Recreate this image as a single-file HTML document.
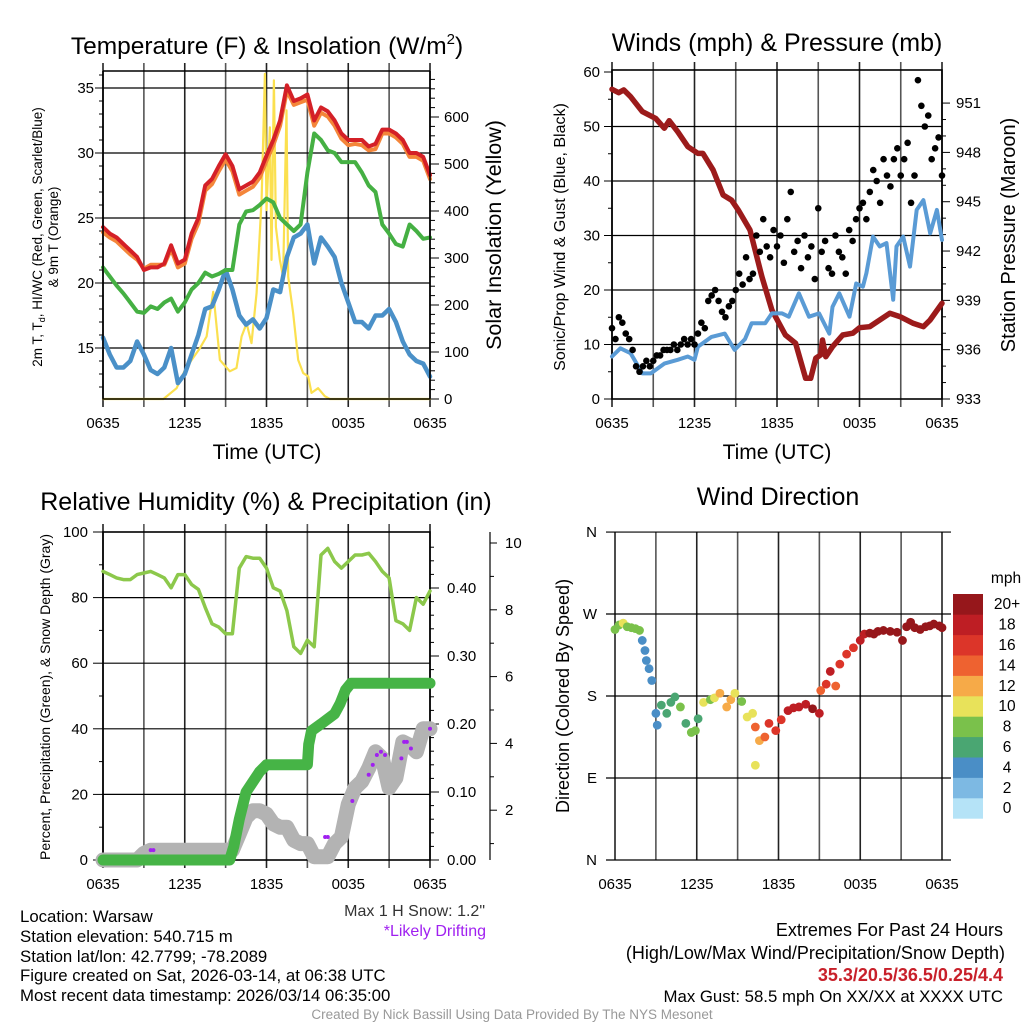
<!DOCTYPE html>
<html><head><meta charset="utf-8"><style>
body{margin:0;background:#fff;}
svg{display:block;font-family:"Liberation Sans",sans-serif;}
</style></head><body>
<svg id="chart" width="1024" height="1024" viewBox="0 0 1024 1024" xmlns="http://www.w3.org/2000/svg">
<rect x="0" y="0" width="1024" height="1024" fill="#fff"/>
<g id="g1"></g>
<g id="g2"></g>
<g id="g3"></g>
<g id="g4"></g>

<text x="267" y="54" font-size="24.5" text-anchor="middle">Temperature (F) &amp; Insolation (W/m<tspan dy="-10" font-size="15">2</tspan><tspan dy="10">)</tspan></text>
<text x="777" y="51" font-size="25" text-anchor="middle">Winds (mph) &amp; Pressure (mb)</text>
<text x="266" y="510" font-size="25" text-anchor="middle">Relative Humidity (%) &amp; Precipitation (in)</text>
<text x="778" y="505" font-size="25" text-anchor="middle">Wind Direction</text>

<text x="267" y="459" font-size="21" text-anchor="middle">Time (UTC)</text>
<text x="777" y="459" font-size="21" text-anchor="middle">Time (UTC)</text>

<text transform="translate(42,237) rotate(-90)" font-size="13.5" text-anchor="middle">2m T, T<tspan font-size="9" dy="3">d</tspan><tspan dy="-3">, HI/WC (Red, Green, Scarlet/Blue)</tspan></text>
<text transform="translate(58,237) rotate(-90)" font-size="13.5" text-anchor="middle">&amp; 9m T (Orange)</text>
<text transform="translate(501,235) rotate(-90)" font-size="21.5" text-anchor="middle">Solar Insolation (Yellow)</text>
<text transform="translate(565,237) rotate(-90)" font-size="16" text-anchor="middle">Sonic/Prop Wind &amp; Gust (Blue, Black)</text>
<text transform="translate(1015,235) rotate(-90)" font-size="20" text-anchor="middle">Station Pressure (Maroon)</text>
<text transform="translate(50,697) rotate(-90)" font-size="14" text-anchor="middle">Percent, Precipitation (Green), &amp; Snow Depth (Gray)</text>
<text transform="translate(569,696) rotate(-90)" font-size="18" text-anchor="middle">Direction (Colored By Speed)</text>

<text x="485" y="916" font-size="16" fill="#333" text-anchor="end">Max 1 H Snow: 1.2"</text>
<text x="486" y="936" font-size="16" fill="#a020f0" text-anchor="end">*Likely Drifting</text>

<g font-size="16.8">
<text x="20" y="922">Location: Warsaw</text>
<text x="20" y="942">Station elevation: 540.715 m</text>
<text x="20" y="962">Station lat/lon: 42.7799; -78.2089</text>
<text x="20" y="981">Figure created on Sat, 2026-03-14, at 06:38 UTC</text>
<text x="20" y="1001">Most recent data timestamp: 2026/03/14 06:35:00</text>
</g>
<g font-size="18" text-anchor="end">
<text x="1003" y="936">Extremes For Past 24 Hours</text>
<text x="1005" y="959">(High/Low/Max Wind/Precipitation/Snow Depth)</text>
<text x="1003" y="981" fill="#c8202a" font-weight="bold">35.3/20.5/36.5/0.25/4.4</text>
<text x="1003" y="1002" font-size="16.8">Max Gust: 58.5 mph On XX/XX at XXXX UTC</text>
</g>
<text x="512" y="1019" font-size="13.5" fill="#999" text-anchor="middle">Created By Nick Bassill Using Data Provided By The NYS Mesonet</text>
</svg>
<script>
// ---------- data ----------
const xTickLabels = ["0635","1235","1835","0035","0635"];
const tempTicks = [15,20,25,30,35];
const solarTicks = [0,100,200,300,400,500,600];
const windTicks = [0,10,20,30,40,50,60];
const pressTicks = [933,936,939,942,945,948,951];
const rhTicks = [0,20,40,60,80,100];
const precipTicks = [0.00,0.10,0.20,0.30,0.40];
const snowTicks = [2,4,6,8,10];
const dirTicks = ["N","E","S","W","N"];
const dirTickVals = [0,90,180,270,360];

const halfHours = Array.from({length:49},(_, i)=>i*0.5);
const tempRed = [24.3,23.8,23.5,23,22.5,22,21,21.2,21.2,21.5,22.9,21.5,21.8,23.8,25,27.5,28,29,29.9,29,27.2,27.5,27.8,28.5,29.8,31,32.5,35.2,34,34.2,34.5,32.5,33.5,33.2,32.5,31.5,31,31,31,30.5,30.7,31.8,31.8,31.5,31,30,30,29.7,28.3];
const tempOrange = [23.9,23.5,23.2,22.7,22.2,21.8,21.1,21.4,21.4,21.4,22.6,21.2,21.5,23.4,24.6,27.1,27.6,28.6,29.5,28.6,26.8,27.1,27.4,28.1,29.4,30.6,32.1,34.8,33.7,33.9,34.1,32.1,33.1,32.8,32.1,31.1,30.6,30.7,30.6,30.2,30.3,31.5,31.5,31.2,30.7,29.7,29.7,29.4,28];
const dewGreen = [21.2,20.5,19.8,19.2,18.5,17.8,17.7,18.2,18,18.5,18.8,17.8,18.5,19.5,20,20.8,20.5,20.7,21,21,24.5,25.5,25.6,26,26.5,26.2,25,24.5,24,24.5,28.5,31.5,31,30.2,30,29.3,29.3,29.3,28.5,27.5,27,24.5,23.8,23,22.8,24.5,24,23.4,23.5];
const chillBlue = [15.8,14.5,13.5,13.5,14,15.5,14.5,13.3,13,13.5,15,12.3,13,14.5,16,18,18.2,19.5,21,19.5,17.5,16.8,17.2,16.5,17.3,19.5,19.3,22,23.5,23.8,24.5,21.5,23.5,22.8,22,20,18.5,17,17,16.5,17.5,17.5,18,17,15.5,14.5,14,13.8,12.8];
const solarTimes = [0,4.43,5.4,6.02,6.5,7.11,7.6,8.09,8.58,9.31,9.8,10.17,10.54,10.9,11.27,11.64,11.88,12.0,12.25,12.37,12.54,12.69,12.98,13.22,13.47,13.59,13.96,14.33,14.69,15.06,15.3,15.79,16.28,16.65,24];
const solarVals = [0,0,23,62,83,108,133,228,83,59,66,133,161,119,226,424,692,402,578,296,678,366,296,260,614,260,182,83,55,48,13,23,6,0,0];

const pressTimes = [0,0.49,0.86,1.35,2.2,3.18,3.8,4.16,4.78,5.51,6.25,6.61,7.35,8.08,8.69,9.18,10.04,10.9,11.63,12.61,13.35,14.08,14.45,14.82,15.18,15.31,15.55,16.04,16.78,17.51,18.0,18.74,20.2,20.94,21.92,22.65,23.14,24];
const pressVals = [951.84,951.63,951.8,951.39,950.48,950.07,949.47,949.93,949.26,948.35,947.94,947.94,946.93,945.41,945.1,944.5,943.28,940.44,938.41,936.89,936.39,934.26,934.26,935.48,935.68,936.59,935.57,936.18,936.89,937.0,937.34,937.4,938.21,938.01,937.6,937.4,937.81,938.82];
const sonicTimes = [0,0.61,1.35,2.2,2.82,3.8,4.78,5.51,6.0,6.25,7.24,8.2,8.92,9.67,10.16,11.14,11.63,12.37,12.86,13.59,14.33,15.06,15.8,16.04,16.53,17.27,17.76,18.25,18.5,18.98,19.47,19.96,20.45,20.69,21.18,21.67,22.16,22.65,23.14,23.63,24];
const sonicWind = [7.8,9.3,8.4,4.7,4.7,6.5,7.2,7.8,7.2,9.6,11.4,12.0,9.0,11,13.9,13.9,15.7,15.7,15.1,19.4,15.1,15.7,12.0,16.9,19.4,15.1,21.2,20.6,23.1,29.8,28,28.6,18.2,28,29.8,24.3,34.7,36.5,30.4,34.7,29.2];
const gustVals = [13,11,15,14,12, 11,9,6,5,6,7,6,7,8,8,9,9, 9,10,9,10,11,10,11,10, 12,14,13,18,19,20,18,16, 15,17,18,20,23,21,26,22, 23,30,27,33,28,26,31,28, 30,25,33,38,27,29,24,30, 26,28,22,35,27,29,24,23, 30,27,26,23,31,29,33,35, 36,33,38,42,40,36,44,41, 39,44,46,41,44,47,36,41, 58.5,53.8,50,52,44,46,48,41];

const rhVals = [88,87,86,85.5,85.5,87,87.5,88,87,86,83,87,87,84,82.5,77,72,71,69,69,89,92.5,92,92,89,83,82,76,65,63,67,65,93,95,91,89,91,93,93,93.5,91,88,86,73,72,70,80,78,82];
const precipTimes = [0,9.3,9.6,10,10.5,11,11.5,12,15,15.1,15.3,16,17,17.4,17.8,18.2,24];
const precipVals = [0,0,0.02,0.06,0.10,0.115,0.13,0.14,0.14,0.17,0.19,0.20,0.215,0.23,0.25,0.26,0.26];
const snowTimes = [0,2.5,3,3.5,9,9.5,10,10.5,11,11.5,12,12.5,13,13.5,14,14.5,15,15.5,16,16.5,17,17.5,18,18.5,19,19.5,20,20.5,21,21.5,22,22.5,23,23.5,24];
const snowVals = [0,0,2,3,3,3,8,13,15,15,14,11,10,10,6,5,5,1,1,1,5,7,17,22,24,28,33,31,22,25,36,35,33,40,40];
const driftTimes = [3.5,3.7,16.3,16.5,18.3,19.5,19.8,20.1,20.4,20.7,21.9,22.1,22.3,22.6,24];
const driftVals = [3,3,7,7,18,26,29,32,33,32,31,36,36,34,40];

const dirTimes = [0,0.3,0.6,0.9,1.2,1.5,1.8,2.0,2.2,2.3,2.5,2.7,3.0,3.1,3.4,3.8,4.1,4.4,4.8,5.2,5.6,5.9,6.1,6.5,7.0,7.3,7.7,8.2,8.5,8.8,9.3,9.7,10.1,10.3,10.3,10.6,11.0,11.3,11.8,12.2,12.7,13.1,13.5,14.0,14.5,15.0,15.1,15.5,15.8,16.2,16.5,17.0,17.5,18.0,18.3,18.7,19.0,19.3,19.7,20.2,20.7,21.1,21.4,21.7,22.0,22.4,22.8,23.1,23.4,23.8,24];
const dirVals = [253,258,260,256,255,254,252,241,230,219,210,197,161,148,170,161,173,179,168,150,140,142,155,173,176,178,183,168,176,183,174,157,161,146,104,131,135,150,142,154,164,167,168,171,166,161,186,193,207,191,215,226,233,241,248,249,248,251,252,251,250,241,256,261,255,253,256,257,259,257,255];
const dirSpeeds = [8,8,10,8,8,8,8,4,4,4,4,4,4,4,5,6,6,6,8,6,8,8,6,10,8,10,12,12,12,10,8,10,10,14,10,12,14,16,16,16,18,18,18,18,20,18,14,16,18,14,16,16,16,18,18,20,20,20,20,20,20,20,20,20,20,20,20,20,20,20,20];
const cbLabels = ["0","2","4","6","8","10","12","14","16","18","20+"];
const cbColors = ["#b5e3f7","#7db9e3","#4a8ec6","#4aa672","#7ac14b","#e8e25a","#f6aa48","#ee6230","#dc3529","#be1e24","#96171b"];

// ---------- helpers ----------
const NS="http://www.w3.org/2000/svg";
function mk(parent, tag, attrs){ const e=document.createElementNS(NS,tag); for(const k in attrs) e.setAttribute(k,attrs[k]); parent.appendChild(e); return e; }
function pathD(xs, ys){ return xs.map((x,i)=>(i?"L":"M")+x.toFixed(1)+","+ys[i].toFixed(1)).join(""); }
const g1=document.getElementById("g1"), g2=document.getElementById("g2"), g3=document.getElementById("g3"), g4=document.getElementById("g4");

function frame(g, x0,x1,y0,y1, border, ext){
  for(let i=0;i<=8;i++){
    const x=x0+(x1-x0)*i/8;
    const l=mk(g,"line",{x1:x,x2:x,y1:y0-(ext?0:8),y2:y1+(ext?0:8),stroke:i%2?"#555":"#222","stroke-width":1.6});
    
    
  }
  for(let i=0;i<5;i++){
    const t=mk(g,"text",{x:x0+(x1-x0)*i/4,y:y1+29,"font-size":15,"text-anchor":"middle"});
    
    
    t.textContent=xTickLabels[i];
  }
  if(border){
    const r=mk(g,"rect",{x:x0,y:y0,width:x1-x0,height:y1-y0,fill:"none",stroke:"#000","stroke-width":1.6});
    
    
  }
}
function hgrid(g,x0,x1,y,ext){
  const l=mk(g,"line",{x1:x0-(ext||0),x2:x1+(ext||0),y1:y,y2:y,stroke:"#000","stroke-width":1.2});
  
  
}
function label(g,x,y,txt,anchor,size,name){
  const t=mk(g,"text",{x:x,y:y+5,"font-size":size||15,"text-anchor":anchor});
  
  
  t.textContent=txt;
  return t;
}
function tick(g,x1,y1,x2,y2){
  const l=mk(g,"line",{x1:x1,y1:y1,x2:x2,y2:y2,stroke:"#000","stroke-width":1});
  
  
}
function line(g,d,color,w,name){
  const p=mk(g,"path",{d:d,fill:"none",stroke:color,"stroke-width":w,"stroke-linejoin":"round","stroke-linecap":"round"});
  
  
  return p;
}

// ---------- panel 1 ----------
{
  const x0=103,x1=430,y0=71,y1=399;
  const X=t=>x0+(x1-x0)*t/24, YT=v=>88+(35-v)*13, YS=w=>399-w*0.47;
  frame(g1,x0,x1,y0,y1,false,false);
  tempTicks.forEach(v=>{hgrid(g1,x0,x1,YT(v)); label(g1,x0-9,YT(v),String(v),"end",15,"temp-tick-label"); tick(g1,x0-8,YT(v),x0,YT(v));});
  for(let v=12;v<=36;v++){ if(v%5) tick(g1,x0-4,YT(v),x0,YT(v)); }
  solarTicks.forEach(v=>{label(g1,x1+14,YS(v),String(v),"start",15,"solar-tick-label"); tick(g1,x1,YS(v),x1+9,YS(v));});
  for(let v=20;v<=680;v+=20){ if(v%100) tick(g1,x1,YS(v),x1+5,YS(v)); }
  line(g1,pathD(solarTimes.map(X),solarVals.map(YS)),"#fbe04f",2.2,"solar-insolation-line");
  line(g1,pathD(halfHours.map(X),chillBlue.map(YT)),"#4a90c8",4.5,"wind-chill-line");
  line(g1,pathD(halfHours.map(X),dewGreen.map(YT)),"#45b043",4,"dewpoint-line");
  line(g1,pathD(halfHours.map(X),tempOrange.map(YT)),"#f4863a",4,"temp-9m-line");
  line(g1,pathD(halfHours.map(X),tempRed.map(YT)),"#d42027",4,"temp-2m-line");
  const b=mk(g1,"path",{d:`M${x0},${y0}H${x1}M${x0},${y0}V${y1}H${x1}V${y0}`,fill:"none",stroke:"#000","stroke-width":1.6});
  
  
}
// ---------- panel 2 ----------
{
  const x0=612,x1=942,y0=70,y1=399;
  const X=t=>x0+(x1-x0)*t/24, YW=v=>399-v*5.45, YP=p=>399-(p-933)*16.44;
  frame(g2,x0,x1,y0,y1,true,false);
  windTicks.forEach(v=>{if(v>0&&v<60) hgrid(g2,x0,x1,YW(v)); label(g2,x0-12,YW(v),String(v),"end",15,"wind-tick-label"); tick(g2,x0-8,YW(v),x0,YW(v));});
  for(let v=5;v<60;v+=10) tick(g2,x0-4,YW(v),x0,YW(v));
  pressTicks.forEach(v=>{label(g2,x1+14,YP(v),String(v),"start",15,"pressure-tick-label"); tick(g2,x1,YP(v),x1+8,YP(v));});
  for(let v=934;v<952;v++){ if((v-933)%3) tick(g2,x1,YP(v),x1+4,YP(v)); }
  line(g2,pathD(pressTimes.map(X),pressVals.map(YP)),"#9c1b1b",5.5,"pressure-line");
  line(g2,pathD(sonicTimes.map(X),sonicWind.map(YW)),"#5a9bd5",4,"sonic-wind-line");
  gustVals.forEach((v,i)=>{
    const c=mk(g2,"circle",{cx:X(i*0.25),cy:YW(v),r:3.3,fill:"#000"});
    
    
  });
}
// ---------- panel 3 ----------
{
  const x0=103,x1=430,y0=532,y1=860;
  const X=t=>x0+(x1-x0)*t/24, YR=v=>860-v*3.28, YPr=p=>860-p*680, YSn=s=>877-s*33.4;
  frame(g3,x0,x1,y0,y1,true,false);
  rhTicks.forEach(v=>{if(v>0&&v<100) hgrid(g3,x0,x1,YR(v)); label(g3,x0-15,YR(v),String(v),"end",15,"rh-tick-label"); tick(g3,x0-10,YR(v),x0,YR(v));});
  for(let v=10;v<100;v+=20) tick(g3,x0-4,YR(v),x0,YR(v));
  precipTicks.forEach(v=>{label(g3,x1+17,YPr(v),v.toFixed(2),"start",15,"precip-tick-label"); tick(g3,x1,YPr(v),x1+9,YPr(v));});
  for(let v=0.02;v<0.47;v+=0.02) tick(g3,x1,YPr(v),x1+4,YPr(v));
  const ax=mk(g3,"line",{x1:490,x2:490,y1:532,y2:860,stroke:"#000","stroke-width":1.2});
  
  
  snowTicks.forEach(v=>{label(g3,505,YSn(v),String(v),"start",15,"snow-tick-label"); tick(g3,490,YSn(v),497,YSn(v));});
  for(let v=1;v<=10;v+=2) tick(g3,490,YSn(v),494,YSn(v));
  line(g3,pathD(snowTimes.map(X),snowVals.map(YR)),"#b3b3b3",15,"snow-depth-line");
  line(g3,pathD(precipTimes.map(X),precipVals.map(YPr)),"#46b446",11,"precip-line");
  line(g3,pathD(halfHours.map(X),rhVals.map(YR)),"#8cc84b",3.5,"rh-line");
  driftTimes.forEach((t,i)=>{
    const c=mk(g3,"circle",{cx:X(t),cy:YR(driftVals[i]),r:2,fill:"#a020f0"});
    
    
  });
}
// ---------- panel 4 ----------
{
  const x0=615,x1=942,y0=532,y1=860;
  const X=t=>x0+(x1-x0)*t/24, YD=d=>860-d*0.911;
  frame(g4,x0,x1,y0,y1,false,true);
  dirTickVals.forEach((v,i)=>{hgrid(g4,x0,x1,YD(v),9); label(g4,597,YD(v),dirTicks[i],"end",15,"direction-tick-label");});
  const colorFor=s=>cbColors[Math.min(10,Math.max(0,Math.round(s/2)))];
  dirTimes.forEach((t,i)=>{
    const c=mk(g4,"circle",{cx:X(t),cy:YD(dirVals[i]),r:4.4,fill:colorFor(dirSpeeds[i])});
    
    
  });
  const cbH=20.4, cbTop=594;
  cbColors.forEach((col,i)=>{
    const y=cbTop+(10-i)*cbH;
    const r=mk(g4,"rect",{x:953,y:y,width:30,height:cbH+0.3,fill:col});
    
    
    label(g4,1007,y+cbH/2,cbLabels[i],"middle",15.5,"colorbar-label");
  });
  label(g4,1006,578,"mph","middle",15.5,"colorbar-title");
}
</script>
</body></html>
